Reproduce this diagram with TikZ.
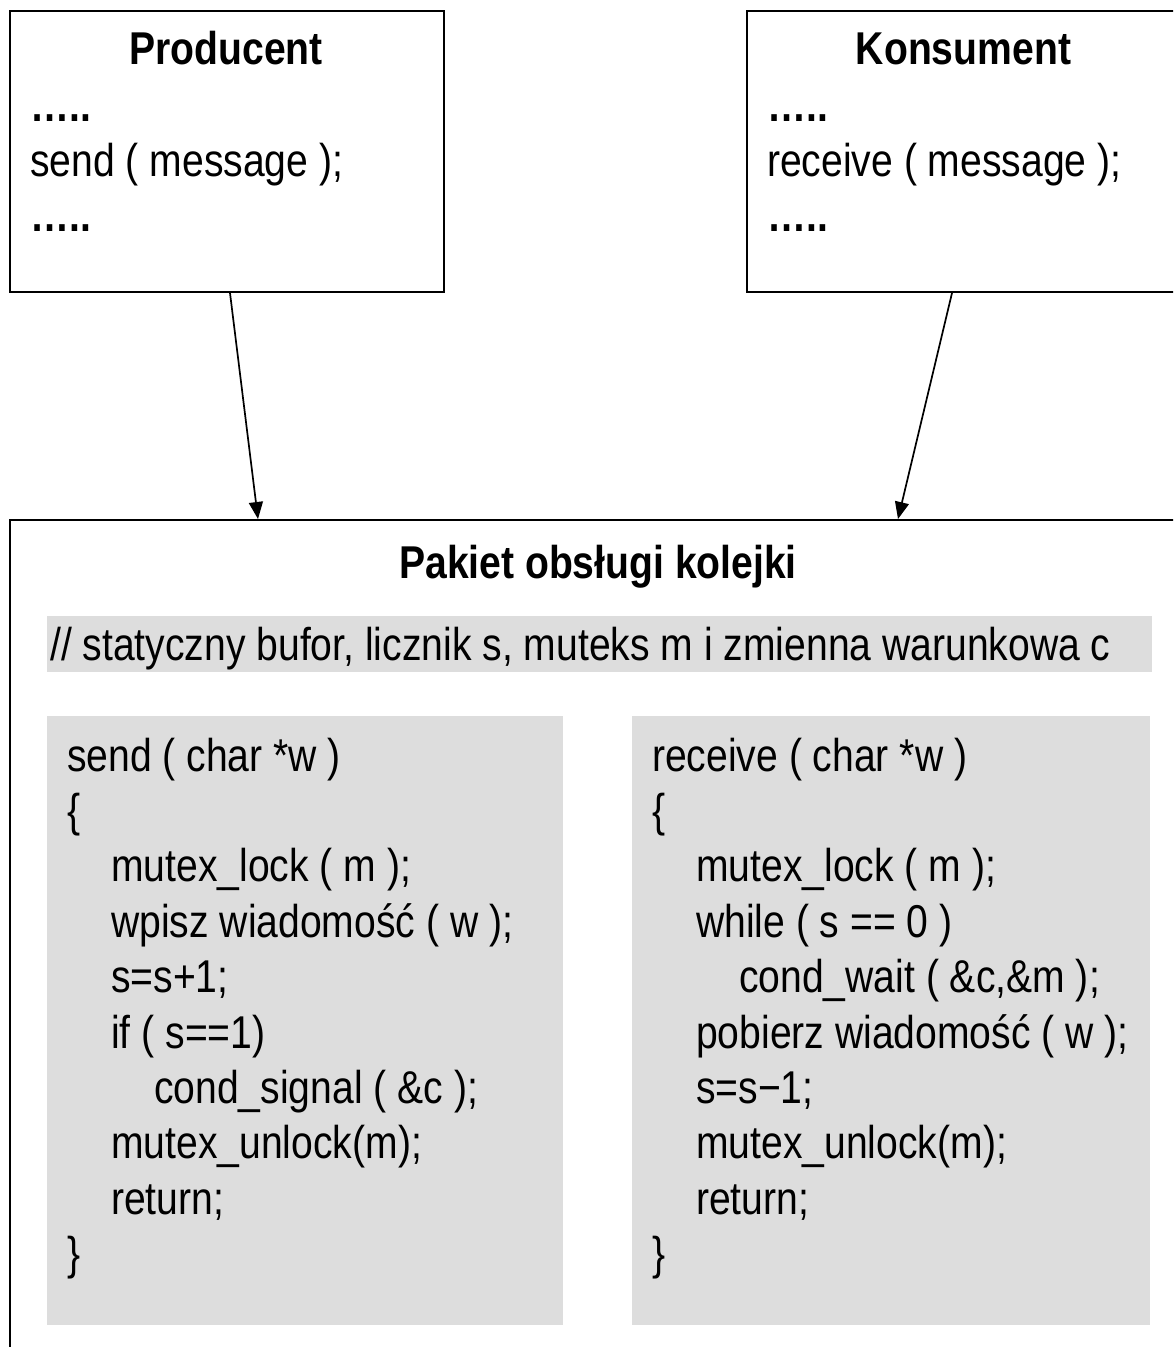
\documentclass[tikz,border=0pt]{standalone}
\usepackage{fontspec}
\setmainfont{Liberation Sans}[FakeStretch=0.85]
\usetikzlibrary{arrows.meta,calc}
\definecolor{codegray}{RGB}{221,221,221}
\begin{document}
\begin{tikzpicture}[x=1pt,y=-1pt,
  box/.style={draw=black,line width=2pt,fill=white,inner sep=0pt,anchor=north west},
  graybox/.style={fill=codegray,draw=none,inner sep=0pt,anchor=north west},
  txt/.style={inner sep=0pt,anchor=base west,font=\fontsize{46}{55}\selectfont},
  ttl/.style={inner sep=0pt,anchor=base,font=\fontsize{46}{55}\selectfont\bfseries},
  arr/.style={line width=1.7pt,-{Triangle[length=17pt,width=14pt]}}]
\useasboundingbox (0,0) rectangle (1173,1347);
\clip (0,0) rectangle (1173,1347);
% boxes
\node[box,minimum width=434pt,minimum height=281pt] (prod) at (9,10) {};
\node[box,minimum width=435pt,minimum height=281pt] (kons) at (746,10) {};
\node[box,minimum width=1172pt,minimum height=845pt] (pak) at (9,519) {};
% producer text
\node[ttl] (prodT) at (226,64) {Producent};
\node[txt] (prodA) at (30,121) {\bfseries …..};
\node[txt] (prodB) at (30,176) {send ( message );};
\node[txt] (prodC) at (30,231) {\bfseries …..};
% consumer text
\node[ttl] (konsT) at (963.5,64) {Konsument};
\node[txt] (konsA) at (767,121) {\bfseries …..};
\node[txt] (konsB) at (767,176) {receive ( message );};
\node[txt] (konsC) at (767,231) {\bfseries …..};
% arrows
\draw[arr] ($(prod.south)+(3,0)$) -- ($(pak.north west)+(249,0)$);
\draw[arr] ($(kons.south)+(-12.5,0)$) -- ($(pak.north west)+(889,0)$);
% package
\node[ttl] (pakT) at (598,578) {Pakiet obsługi kolejki};
\node[graybox,minimum width=1105pt,minimum height=56pt] (cmt) at (47,616) {};
\node[txt] (cmtT) at (50,660) {// statyczny bufor, licznik s, muteks m i zmienna warunkowa c};
\node[graybox,minimum width=516pt,minimum height=609pt] (sendbox) at (47,716) {};
\node[graybox,minimum width=518pt,minimum height=609pt] (recvbox) at (632,716) {};
% send code
\node[txt] (s0) at (67,771) {send ( char *w )};
\node[txt] (s1) at (67,826.4) {\{};
\node[txt] (s2) at (111,881.8) {mutex\_lock ( m );};
\node[txt] (s3) at (111,937.2) {wpisz wiadomość ( w );};
\node[txt] (s4) at (111,992.6) {s=s+1;};
\node[txt] (s5) at (111,1048) {if ( s==1)};
\node[txt] (s6) at (154,1103.4) {cond\_signal ( \&c );};
\node[txt] (s7) at (111,1158.8) {mutex\_unlock(m);};
\node[txt] (s8) at (111,1214.2) {return;};
\node[txt] (s9) at (67,1269.6) {\}};
% receive code
\node[txt] (r0) at (652,771) {receive ( char *w )};
\node[txt] (r1) at (652,826.4) {\{};
\node[txt] (r2) at (696,881.8) {mutex\_lock ( m );};
\node[txt] (r3) at (696,937.2) {while ( s == 0 )};
\node[txt] (r4) at (739,992.6) {cond\_wait ( \&c,\&m );};
\node[txt] (r5) at (696,1048) {pobierz wiadomość ( w );};
\node[txt] (r6) at (696,1103.4) {s=s−1;};
\node[txt] (r7) at (696,1158.8) {mutex\_unlock(m);};
\node[txt] (r8) at (696,1214.2) {return;};
\node[txt] (r9) at (652,1269.6) {\}};
\end{tikzpicture}
\end{document}
